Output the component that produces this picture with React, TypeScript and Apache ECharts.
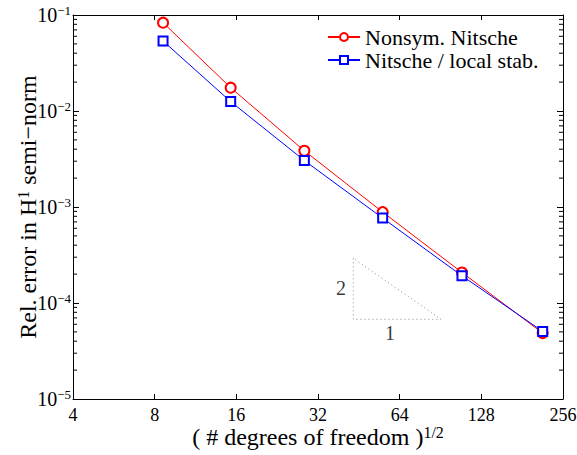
import React, { useEffect, useRef } from "react";
import * as echarts from "echarts";

const dofs: number[] = [8.59, 15.25, 28.5, 55.4, 108.6, 215.4];
const nonsymNitsche: number[] = [0.0832, 0.0175, 0.00385, 0.000885, 0.000208, 0.0000486];
const nitscheLocal: number[] = [0.0536, 0.01253, 0.00305, 0.000766, 0.000192, 0.0000506];
const xTicks: number[] = [4, 8, 16, 32, 64, 128, 256];
const yMinorTicks: number[] = [];
for (let e = -5; e <= -2; e++) {
  for (let m = 2; m <= 9; m++) yMinorTicks.push(m * Math.pow(10, e));
}
const triangleX: number[] = [43.2, 43.2, 90.9, 43.2];
const triangleY: number[] = [2.92e-4, 6.77e-5, 6.77e-5, 2.92e-4];
const slopeLabels: { x: number; y: number; text: string }[] = [
  { x: 38.9, y: 1.43e-4, text: "2" },
  { x: 59, y: 4.87e-5, text: "1" },
];

const FONT = "Liberation Serif";

export default function App() {
  const ref = useRef<HTMLDivElement>(null);
  useEffect(() => {
    if (!ref.current) return;
    const chart = echarts.init(ref.current, undefined, { renderer: "svg" });
    const yFmt = (v: number) => {
      const e = Math.round(Math.log10(v));
      return `{b|10}{s|${e < 0 ? "\u2212" : ""}${Math.abs(e)}}`;
    };
    const axisCommon = {
      axisLine: { show: true, onZero: false, lineStyle: { color: "#000", width: 1 } },
      splitLine: { show: false },
      nameMoveOverlap: false,
    };
    chart.setOption({
      animation: false,
      backgroundColor: "#fff",
      textStyle: { fontFamily: FONT },
      grid: {
        left: 73,
        top: 15,
        right: 14,
        bottom: 56,
        containLabel: false,
        outerBoundsMode: "none",
      },
      legend: {
        orient: "vertical",
        left: 327,
        top: 26,
        padding: 0,
        itemWidth: 32,
        itemHeight: 10,
        itemGap: 1,
        data: ["Nonsym. Nitsche", "Nitsche / local stab."],
        textStyle: { fontFamily: FONT, fontSize: 22, color: "#000" },
      },
      xAxis: [
        {
          type: "log",
          logBase: 2,
          min: xTicks[0],
          max: xTicks[xTicks.length - 1],
          interval: 1,
          position: "bottom",
          ...axisCommon,
          axisTick: { show: true, inside: true, length: 5, lineStyle: { color: "#000" } },
          axisLabel: {
            show: true,
            margin: 7,
            fontFamily: FONT,
            fontSize: 18,
            color: "#000",
            formatter: (v: number) => String(Math.round(v)),
          },
          name: "{a|( # degrees of freedom )}{s|1/2}",
          nameLocation: "middle",
          nameGap: 25,
          nameTextStyle: {
            rich: {
              a: { fontFamily: FONT, fontSize: 24, color: "#000", lineHeight: 26 },
              s: { fontFamily: FONT, fontSize: 16, color: "#000", lineHeight: 4, verticalAlign: "top" },
            },
          },
        },
        {
          type: "log",
          logBase: 2,
          min: xTicks[0],
          max: xTicks[xTicks.length - 1],
          interval: 1,
          position: "top",
          ...axisCommon,
          axisTick: { show: true, inside: true, length: 5, lineStyle: { color: "#000" } },
          axisLabel: { show: false },
        },
      ],
      yAxis: [
        {
          type: "log",
          logBase: 10,
          min: 1e-5,
          max: 1e-1,
          interval: 1,
          position: "left",
          ...axisCommon,
          axisTick: { show: true, inside: true, length: 6, lineStyle: { color: "#000" } },
          axisLabel: {
            show: true,
            margin: 2,
            formatter: yFmt,
            rich: {
              b: { fontFamily: FONT, fontSize: 20, color: "#000", lineHeight: 22 },
              s: { fontFamily: FONT, fontSize: 13, color: "#000", lineHeight: 4, verticalAlign: "top" },
            },
          },
          name: "{a|Rel. error in H}{s|1}{a| semi\u2212norm}",
          nameLocation: "middle",
          nameGap: 32,
          nameTextStyle: {
            rich: {
              a: { fontFamily: FONT, fontSize: 24, color: "#000", lineHeight: 26 },
              s: { fontFamily: FONT, fontSize: 16, color: "#000", lineHeight: 4, verticalAlign: "top" },
            },
          },
        },
        {
          type: "log",
          logBase: 10,
          min: 1e-5,
          max: 1e-1,
          interval: 1,
          position: "right",
          ...axisCommon,
          axisTick: { show: true, inside: true, length: 6, lineStyle: { color: "#000" } },
          axisLabel: { show: false },
        },
      ],
      series: [
        {
          name: "Nonsym. Nitsche",
          type: "line",
          data: dofs.map((x, i) => [x, nonsymNitsche[i]]),
          color: "#ff0000",
          symbol: "emptyCircle",
          symbolSize: 10,
          lineStyle: { width: 1, color: "#ff0000" },
          itemStyle: { color: "#ff0000", borderWidth: 1 },
          z: 3,
        },
        {
          name: "Nitsche / local stab.",
          type: "line",
          data: dofs.map((x, i) => [x, nitscheLocal[i]]),
          color: "#0000ff",
          symbol: "emptyRect",
          symbolSize: 9,
          lineStyle: { width: 1, color: "#0000ff" },
          itemStyle: { color: "#0000ff", borderWidth: 1 },
          z: 4,
        },
        {
          name: "triangle",
          type: "line",
          data: triangleX.map((x, i) => [x, triangleY[i]]),
          symbol: "none",
          silent: true,
          lineStyle: { width: 1, color: "#888", type: [1, 3] },
          z: 1,
        },
        {
          name: "slopeLabels",
          type: "scatter",
          data: slopeLabels.map((d) => ({ value: [d.x, d.y], label: { formatter: d.text } })),
          symbolSize: 0,
          silent: true,
          label: {
            show: true,
            position: "inside",
            fontFamily: FONT,
            fontSize: 20,
            color: "#000",
          },
        },
        {
          name: "minorTicks",
          type: "custom",
          silent: true,
          data: yMinorTicks.map((v) => [xTicks[0], v]),
          renderItem: (params: any, api: any) => {
            const v = api.value(1);
            const l = api.coord([xTicks[0], v]);
            const r = api.coord([xTicks[xTicks.length - 1], v]);
            const style = { stroke: "#000", lineWidth: 1 };
            return {
              type: "group",
              children: [
                { type: "line", shape: { x1: l[0], y1: l[1], x2: l[0] + 4, y2: l[1] }, style },
                { type: "line", shape: { x1: r[0], y1: r[1], x2: r[0] - 4, y2: r[1] }, style },
              ],
            };
          },
          z: 5,
        },
      ],
    });
    return () => chart.dispose();
  }, []);
  return (
    <div
      ref={ref}
      style={{ position: "fixed", left: 0, top: 0, width: 577, height: 455 }}
    />
  );
}
